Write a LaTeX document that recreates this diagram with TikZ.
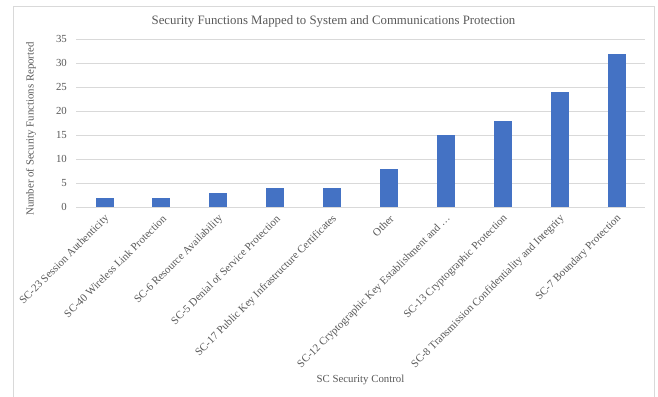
\documentclass[tikz,border=0pt]{standalone}
\usepackage{fontspec}
\setmainfont{Liberation Serif}
\definecolor{txtgrey}{HTML}{595959}
\definecolor{gridgrey}{HTML}{D9D9D9}
\definecolor{framegrey}{HTML}{D9D9D9}
\definecolor{barblue}{HTML}{4472C4}
\begin{document}
\begin{tikzpicture}[x=1pt,y=-1pt,
  gridline/.style={draw=gridgrey,line width=0.9pt},
  barfill/.style={fill=barblue},
  ticklabel/.style={text=txtgrey,font=\fontsize{10.8}{12}\selectfont,anchor=east,inner sep=0pt},
  catlabel/.style={text=txtgrey,font=\fontsize{10.9}{12}\selectfont,anchor=east,rotate=45,inner sep=0pt},
  axistitle/.style={text=txtgrey,font=\fontsize{10.8}{12}\selectfont,inner sep=0pt},
  charttitle/.style={text=txtgrey,font=\fontsize{12.8}{14}\selectfont,inner sep=0pt}]
\useasboundingbox (0,0) rectangle (658,396);
\fill[white] (0,0) rectangle (658,396);
\begin{scope}
\clip (0,0) rectangle (658,396);
\draw[framegrey,line width=0.9pt] (13,6) rectangle (654,400);
\end{scope}

% chart title
\node[charttitle] (title) at (333.5,21.5) {Security Functions Mapped to System and Communications Protection};

% value grid and tick labels (0 to 35 in steps of 5)
\def\xl{76}
\def\xr{645}
\foreach \v in {0,5,...,35}{
  \pgfmathsetmacro{\yy}{207.3-\v*4.8}
  \draw[gridline] (\xl,\yy) -- (\xr,\yy);
  \node[ticklabel] (tick\v) at (67,\yy) {\v};
}

% bars and category labels
\foreach \i/\val/\lab in {
  0/2/{SC-23 Session Authenticity},
  1/2/{SC-40 Wireless Link Protection},
  2/3/{SC-6 Resource Availability},
  3/4/{SC-5 Denial of Service Protection},
  4/4/{SC-17 Public Key Infrastructure Certificates},
  5/8/{Other},
  6/15/{SC-12 Cryptographic Key Establishment and …},
  7/18/{SC-13 Cryptographic Protection},
  8/24/{SC-8 Transmission Confidentiality and Integrity},
  9/32/{SC-7 Boundary Protection}}{
  \pgfmathsetmacro{\xc}{104.5+\i*56.9}
  \pgfmathsetmacro{\ytop}{207.3-\val*4.8}
  \fill[barfill] (\xc-9,207.3) rectangle (\xc+9,\ytop);
  \node[catlabel] (cat\i) at (\xc+3,217) {\lab};
}

% axis titles
\node[axistitle,rotate=90] (ytitle) at (31,129) {Number of Security Functions Reported};
\node[axistitle] (xtitle) at (360.5,380) {SC Security Control};
\end{tikzpicture}
\end{document}
